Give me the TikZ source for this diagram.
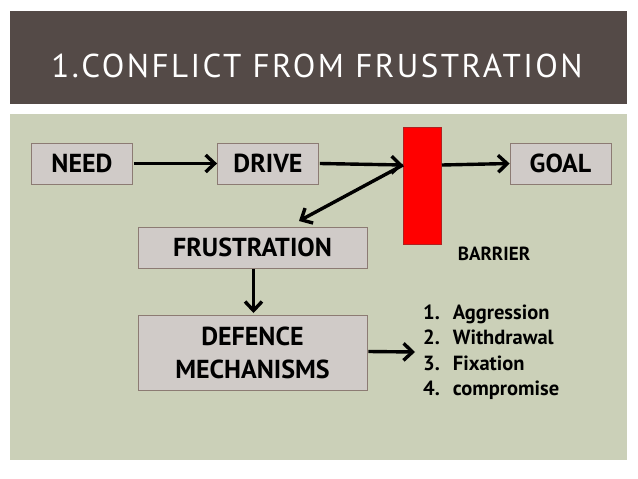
\documentclass[tikz,border=0pt]{standalone}
\usepackage{fontspec}
\setmainfont{PT Sans}
\newfontfamily\titlefont[LetterSpace=7.5]{PT Sans}
\usetikzlibrary{arrows.meta}
\definecolor{titlebg}{HTML}{544A47}
\definecolor{panelbg}{HTML}{CBD0B8}
\definecolor{boxfill}{HTML}{D0CBC8}
\definecolor{boxline}{HTML}{8C7B73}
\definecolor{barred}{HTML}{FF0000}
\definecolor{barline}{HTML}{B02020}
\begin{document}
\begin{tikzpicture}[x=1pt,y=-1pt,
  conceptbox/.style={draw=boxline,line width=0.8pt,fill=boxfill,inner sep=0pt,
     font=\fontsize{26}{33}\selectfont\bfseries,align=center,text=black},
  flowarrow/.style={line width=3.4pt,-{Straight Barb[length=9pt,width=17pt,line width=3.4pt]}}]
\useasboundingbox (0,0) rectangle (638,479);
\fill[white] (0,0) rectangle (638,479);
\fill[titlebg] (10,11) rectangle (627,104);
\fill[panelbg] (10,114) rectangle (627,460);
\node[text=white,font=\titlefont\fontsize{33}{38}\selectfont] (title) at (317,66) {1.CONFLICT FROM FRUSTRATION};
\node[conceptbox,minimum width=101pt,minimum height=41pt] (need) at (82,163.5) {NEED};
\node[conceptbox,minimum width=101pt,minimum height=41pt] (drive) at (268,163.5) {DRIVE};
\node[conceptbox,minimum width=101pt,minimum height=41pt] (goal) at (560.5,163.5) {GOAL};
\node[draw=barline,line width=0.6pt,fill=barred,minimum width=38pt,minimum height=117pt,inner sep=0pt] (barrier) at (422.5,185.5) {};
\node[font=\fontsize{19}{22}\selectfont\bfseries,text=black] (barlabel) at (494,253.5) {BARRIER};
\node[conceptbox,minimum width=229pt,minimum height=41pt] (frus) at (252.5,247.5) {FRUSTRATION};
\node[conceptbox,minimum width=229pt,minimum height=75pt] (def) at (252.5,352.5) {DEFENCE\\MECHANISMS};
\node[anchor=west,inner sep=0pt,font=\fontsize{20.5}{25.5}\selectfont\bfseries,text=black] (list) at (423,352.5)
  {\begin{tabular}{@{}l@{\hspace{13pt}}l@{}}1.&Aggression\\2.&Withdrawal\\3.&Fixation\\4.&compromise\end{tabular}};
\coordinate (barin) at (403,165);
\coordinate (barout) at (442,165);
\coordinate (frustop) at (299,221);
\coordinate (listin) at (415,352);
\draw[flowarrow] (need.east) ++(1,0) -- (drive.west);
\draw[flowarrow] (drive.east) ++(1,0) -- (barin);
\draw[flowarrow] (barout) -- (goal.west);
\draw[flowarrow] (barin) -- (frustop);
\draw[flowarrow] (frus.south) ++(1,0.5) -- (253.5,313);
\draw[flowarrow] (def.east) ++(1,-1) -- (listin);
\end{tikzpicture}
\end{document}
